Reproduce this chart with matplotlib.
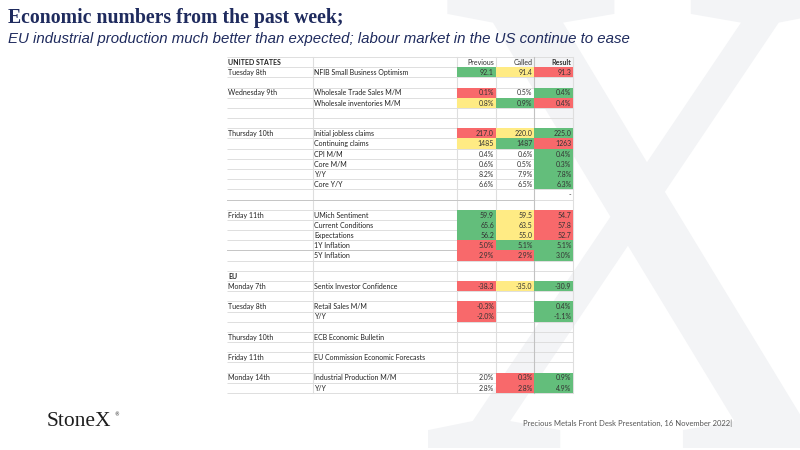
import matplotlib
matplotlib.use("Agg")
import matplotlib.pyplot as plt
from matplotlib.patches import Rectangle, PathPatch
from matplotlib.textpath import TextPath
from matplotlib.font_manager import FontProperties
from matplotlib.transforms import Affine2D

# ---------------- data ----------------
title = "Economic numbers from the past week;"
subtitle = ("EU industrial production much better than expected; "
            "labour market in the US continue to ease")
brand = "StoneX"
footer = "Precious Metals Front Desk Presentation, 16 November 2022|"

dates = ["UNITED STATES", "Tuesday 8th", "", "Wednesday 9th", "", "", "",
         "Thursday 10th", "", "", "", "", "", "", "",
         "Friday 11th", "", "", "", "", "",
         "EU", "Monday 7th", "", "Tuesday 8th", "", "",
         "Thursday 10th", "", "Friday 11th", "", "Monday 14th", ""]

events = ["", "NFIB Small Business Optimism", "", "Wholesale Trade Sales M/M",
          "Wholesale inventories M/M", "", "",
          "Initial jobless claims", "Continuing claims", "CPI M/M", "Core M/M",
          "Y/Y", "Core Y/Y", "", "",
          "UMich Sentiment", "Current Conditions", "Expectations",
          "1Y Inflation", "5Y Inflation", "",
          "", "Sentix Investor Confidence", "", "Retail Sales M/M", "Y/Y", "",
          "ECB Economic Bulletin", "", "EU Commission Economic Forecasts", "",
          "Industrial Production M/M", "Y/Y"]

previous = ["Previous", "92.1", "", "0.1%", "0.8%", "", "",
            "217.0", "1485", "0.4%", "0.6%", "8.2%", "6.6%", "", "",
            "59.9", "65.6", "56.2", "5.0%", "2.9%", "",
            "", "-38.3", "", "-0.3%", "-2.0%", "",
            "", "", "", "", "2.0%", "2.8%"]

called = ["Called", "91.4", "", "0.5%", "0.9%", "", "",
          "220.0", "1487", "0.6%", "0.5%", "7.9%", "6.5%", "", "",
          "59.5", "63.5", "55.0", "5.1%", "2.9%", "",
          "", "-35.0", "", "", "", "",
          "", "", "", "", "0.3%", "2.8%"]

result = ["Result", "91.3", "", "0.4%", "0.4%", "", "",
          "225.0", "1263", "0.4%", "0.3%", "7.8%", "6.3%", "-", "",
          "54.7", "57.8", "52.7", "5.1%", "3.0%", "",
          "", "-30.9", "", "0.4%", "-1.1%", "",
          "", "", "", "", "0.9%", "4.9%"]

# cell shading: G = green, Y = yellow, R = red
previous_shade = ["", "G", "", "R", "Y", "", "",
                  "R", "Y", "", "", "", "", "", "",
                  "G", "G", "G", "R", "R", "",
                  "", "R", "", "R", "R", "",
                  "", "", "", "", "", ""]
called_shade = ["", "Y", "", "", "G", "", "",
                "Y", "G", "", "", "", "", "", "",
                "Y", "Y", "Y", "G", "R", "",
                "", "Y", "", "", "", "",
                "", "", "", "", "R", "R"]
result_shade = ["", "R", "", "G", "R", "", "",
                "G", "R", "G", "G", "G", "G", "", "",
                "R", "R", "R", "G", "G", "",
                "", "G", "", "G", "G", "",
                "", "", "", "", "G", "G"]

bold_labels = ["UNITED STATES", "EU"]

# ---------------- styling / layout ----------------
shade_colors = {"G": "#63BE7B", "Y": "#FFEB84", "R": "#F8696B"}
navy = "#1F2B5E"
grid_c = "#DEDEDE"
col_edges = [227, 313, 457, 495.5, 534, 573]
table_top = 57.0
row_h = 10.18

fig = plt.figure(figsize=(8, 4.5), dpi=100)
ax = fig.add_axes([0, 0, 1, 1])
ax.set_xlim(0, 800)
ax.set_ylim(450, 0)
ax.axis("off")

# watermark X
tp = TextPath((0, 0), "X", size=100, prop=FontProperties(family="Liberation Serif"))
ext = tp.get_extents()
wx0, wx1, wy0, wy1 = 428, 850, -4, 448
sx = (wx1 - wx0) / ext.width
sy = (wy1 - wy0) / ext.height
tr = Affine2D().translate(-ext.x0, -ext.y0).scale(sx, -sy).translate(wx0, wy1)
ax.add_patch(PathPatch(tr.transform_path(tp), fc="#F3F4F6", ec="none", zorder=0))

# titles
ax.text(8, 23, title, fontsize=14.2, family="Liberation Serif", weight="bold",
        color=navy, va="baseline", zorder=5)
ax.text(8, 43, subtitle, fontsize=10.8, family="Liberation Sans", style="italic",
        color=navy, va="baseline", zorder=5)

# table
n = len(dates)
left, right = col_edges[0], col_edges[-1]
for i in range(n + 1):
    y = table_top + i * row_h
    ax.plot([left, right], [y, y], color=grid_c, lw=0.7, zorder=1,
            solid_capstyle="butt")
for i, xr in [(14, col_edges[4]), (19, col_edges[2])]:
    y = table_top + i * row_h
    ax.plot([left, xr], [y, y], color="#C6C6C6", lw=0.7, zorder=1.5)
bottom = table_top + n * row_h
for x in col_edges[1:]:
    c = "#C2C2C2" if x == col_edges[4] else grid_c
    ax.plot([x, x], [table_top, bottom], color=c, lw=0.8, zorder=1.2)

value_cols = [(previous, previous_shade, 2), (called, called_shade, 3),
              (result, result_shade, 4)]
font_t = "Lato"
for i in range(n):
    y0 = table_top + i * row_h
    yc = y0 + row_h / 2 + 0.3
    for vals, shades, ci in value_cols:
        s = shades[i]
        if s:
            ax.add_patch(Rectangle((col_edges[ci], y0), col_edges[ci + 1] - col_edges[ci],
                                   row_h, fc=shade_colors[s], ec="none", zorder=2))
        if vals[i]:
            w = "bold" if (i == 0 and vals[i] == "Result") else "normal"
            ax.text(col_edges[ci + 1] - 1.5, yc, vals[i], ha="right", va="center",
                    fontsize=5, family=font_t, color="#333333", weight=w, zorder=3)
    if dates[i]:
        w = "bold" if dates[i] in bold_labels else "normal"
        ax.text(left + 1.5, yc, dates[i], ha="left", va="center", fontsize=5,
                family=font_t, color="#222222", weight=w, zorder=3)
    if events[i]:
        ax.text(col_edges[1] + 1.5, yc, events[i], ha="left", va="center", fontsize=5,
                family=font_t, color="#222222", zorder=3)

# footer
ax.text(47, 426, brand, fontsize=15.5, family="Liberation Serif", color="#1E1E1E",
        va="baseline", zorder=5)
ax.text(114, 416, "\u00ae", fontsize=3.5, family="DejaVu Sans", color="#1E1E1E",
        va="baseline", zorder=5)
ax.text(523, 423.5, footer, fontsize=5.5, family="Lato", color="#555555",
        va="center", zorder=5)

fig.savefig("out.png", dpi=100)
